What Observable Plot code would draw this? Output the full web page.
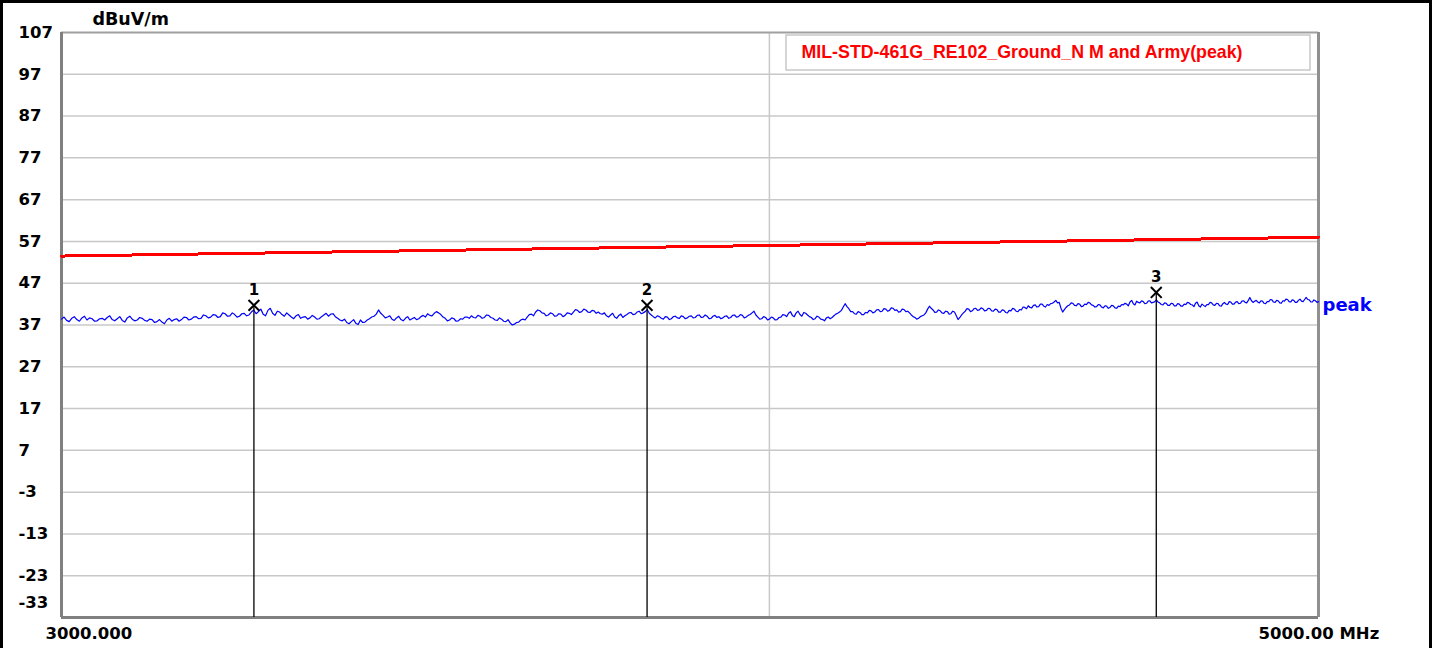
<!DOCTYPE html>
<html>
<head>
<meta charset="utf-8">
<script src="https://cdn.jsdelivr.net/npm/d3@7"></script>
<script src="https://cdn.jsdelivr.net/npm/@observablehq/plot@0.6"></script>
<style>
  html, body { margin: 0; padding: 0; background: #fff; }
  #wrap { position: relative; width: 1433px; height: 648px; overflow: hidden; }
  #edge { position: absolute; left: 0; top: 0; width: 1432px; height: 648px; box-sizing: border-box;
          border-left: 3px solid #000; border-top: 3px solid #000; border-right: 3px solid #000; pointer-events: none; }
  svg { display: block; }
</style>
</head>
<body>
<div id="wrap"><div id="edge"></div></div>
<script>
// Sweep settings (MHz)
const freqStart = 3000;
const freqStop = 5000;

// Measured peak trace, dBuV/m, one value per sweep point (evenly spaced from start to stop)
const peakLevels = [
  38.4, 38.9, 38.1, 37.8, 38.6, 39.0, 38.3, 37.9, 38.7, 39.1, 38.2, 38.7, 38.5, 37.9, 38.0, 38.5, 38.6, 38.2, 38.8, 39.2,
  38.3, 38.0, 38.5, 39.0, 38.1, 37.7, 38.7, 39.1, 38.4, 38.0, 38.2, 38.8, 38.6, 38.1, 37.9, 38.4, 38.3, 37.6, 37.8, 38.3,
  37.7, 37.3, 38.2, 38.6, 37.9, 38.3, 38.5, 37.9, 38.3, 38.9, 38.8, 38.2, 38.4, 38.9, 39.0, 38.5, 38.6, 39.4, 39.2, 38.7,
  38.9, 39.5, 39.4, 38.8, 39.0, 39.9, 39.7, 39.1, 39.2, 39.9, 39.5, 38.9, 39.1, 39.7, 39.8, 39.2, 39.4, 40.1, 40.6, 39.7,
  40.2, 40.8, 39.6, 39.2, 40.5, 41.0, 39.8, 39.3, 40.3, 40.1, 39.5, 39.1, 39.9, 39.4, 38.9, 38.5, 39.2, 39.5, 38.6, 38.9,
  39.0, 38.4, 38.7, 39.3, 38.9, 38.4, 38.5, 39.0, 39.4, 39.8, 39.1, 39.6, 39.7, 39.0, 38.6, 38.2, 38.0, 38.4, 37.6, 37.3,
  37.8, 38.3, 37.4, 37.1, 38.2, 37.6, 37.7, 38.2, 38.5, 38.9, 39.1, 39.6, 40.6, 39.8, 39.3, 38.7, 38.9, 39.2, 38.4, 38.1,
  38.7, 39.1, 38.3, 38.0, 38.6, 39.0, 38.2, 38.5, 38.8, 38.3, 38.5, 39.0, 39.3, 38.9, 39.7, 39.3, 39.2, 39.8, 40.2, 39.9,
  39.5, 38.9, 38.6, 38.0, 38.2, 38.7, 38.5, 37.9, 38.0, 38.5, 38.4, 38.9, 38.9, 38.6, 39.2, 38.8, 38.7, 39.3, 39.1, 38.6,
  38.8, 39.4, 39.3, 38.8, 38.6, 38.2, 38.1, 38.7, 38.4, 37.9, 37.8, 38.3, 37.5, 37.0, 37.2, 37.6, 37.7, 38.2, 38.4, 38.2,
  38.9, 39.5, 39.6, 39.2, 40.1, 40.6, 40.4, 39.9, 39.8, 39.2, 39.4, 39.9, 39.7, 39.1, 39.2, 39.7, 39.6, 39.0, 39.3, 39.9,
  39.8, 39.5, 40.1, 40.7, 40.5, 40.0, 40.2, 40.8, 40.6, 40.1, 40.0, 40.5, 40.4, 39.8, 40.1, 39.7, 39.6, 39.9, 39.2, 38.9,
  39.4, 39.8, 38.9, 38.6, 39.3, 39.6, 38.8, 39.2, 39.5, 39.9, 40.0, 39.5, 39.6, 40.1, 40.3, 39.7, 39.9, 40.2, 40.7, 39.8,
  39.4, 39.0, 38.7, 39.2, 39.0, 38.6, 38.4, 39.0, 38.9, 38.3, 38.5, 39.0, 39.1, 38.7, 38.6, 39.2, 39.0, 38.5, 38.7, 39.1,
  39.2, 38.7, 38.8, 39.3, 39.4, 38.8, 38.9, 39.4, 39.1, 38.5, 38.6, 39.1, 39.3, 38.8, 39.0, 38.5, 38.7, 39.1, 39.2, 38.6,
  38.8, 39.3, 39.4, 38.9, 39.0, 39.5, 39.3, 38.7, 38.9, 39.3, 39.5, 39.9, 40.3, 39.4, 38.9, 38.4, 38.5, 39.0, 38.8, 38.2,
  38.4, 38.9, 38.7, 38.2, 38.3, 38.8, 38.9, 39.5, 39.4, 39.0, 39.8, 40.2, 39.3, 39.0, 39.9, 40.3, 39.5, 39.1, 40.0, 39.8,
  39.4, 39.0, 38.8, 38.3, 38.5, 39.1, 38.9, 38.4, 38.3, 38.0, 38.7, 38.9, 38.5, 38.8, 39.2, 39.6, 39.8, 40.1, 40.5, 41.3,
  42.1, 41.4, 40.9, 40.2, 40.2, 39.7, 39.6, 40.2, 40.0, 39.5, 39.5, 40.0, 39.9, 40.5, 40.4, 39.9, 40.1, 40.6, 40.7, 40.2,
  40.3, 40.9, 40.8, 40.3, 40.5, 41.1, 41.0, 40.5, 40.6, 40.1, 40.2, 40.8, 40.7, 40.2, 40.3, 39.9, 39.4, 39.0, 38.8, 38.4,
  38.6, 39.0, 39.2, 39.4, 39.9, 40.8, 41.5, 41.0, 40.6, 40.0, 40.1, 40.6, 40.4, 39.9, 39.8, 40.3, 40.2, 39.6, 39.7, 40.3,
  40.1, 39.2, 38.3, 38.8, 39.4, 39.9, 40.3, 40.9, 40.8, 40.2, 40.4, 40.9, 41.0, 40.5, 40.6, 41.1, 40.9, 40.4, 40.5, 41.0,
  40.9, 40.4, 40.3, 40.8, 40.7, 40.1, 40.1, 40.6, 40.5, 40.0, 39.9, 40.5, 40.4, 41.0, 40.8, 40.3, 40.2, 40.7, 40.6, 41.3,
  41.2, 40.9, 41.6, 41.2, 41.1, 41.7, 41.8, 41.3, 41.4, 42.0, 42.0, 41.5, 41.3, 41.9, 41.7, 42.1, 42.2, 42.5, 42.9, 42.3,
  42.4, 41.0, 40.1, 40.7, 41.2, 41.6, 41.8, 42.3, 42.2, 41.7, 41.6, 42.1, 42.0, 41.4, 41.5, 42.0, 41.9, 42.4, 42.3, 41.8,
  41.7, 41.3, 41.4, 41.9, 41.8, 41.3, 41.1, 41.6, 41.5, 41.0, 41.2, 41.7, 41.6, 41.1, 41.0, 41.5, 41.4, 41.9, 41.8, 42.2,
  42.0, 41.6, 42.5, 42.9, 42.1, 41.8, 42.7, 42.4, 42.3, 42.8, 42.6, 42.1, 42.2, 42.7, 42.8, 42.3, 42.4, 42.6, 43.0, 42.5,
  42.3, 41.9, 41.8, 42.3, 42.2, 41.7, 41.7, 42.2, 42.1, 41.6, 41.6, 42.1, 42.0, 41.5, 41.5, 42.0, 41.9, 42.4, 42.3, 41.9,
  41.8, 41.4, 42.2, 42.5, 41.6, 41.3, 42.0, 41.7, 41.4, 41.9, 41.9, 42.4, 42.3, 41.8, 41.7, 42.2, 42.1, 41.6, 41.5, 42.1,
  42.4, 42.0, 41.9, 42.6, 42.5, 42.0, 42.0, 42.5, 42.6, 42.1, 42.2, 42.7, 42.8, 42.4, 42.3, 42.9, 43.6, 42.8, 42.4, 42.7,
  42.9, 42.5, 42.3, 42.8, 42.7, 42.2, 42.1, 42.6, 42.6, 43.1, 43.0, 42.5, 42.4, 42.9, 42.8, 42.3, 42.2, 42.8, 42.7, 43.2,
  43.1, 42.6, 42.5, 43.0, 42.9, 42.4, 42.4, 42.9, 43.2, 42.7, 42.6, 43.1, 43.6, 43.1, 43.0, 42.5, 42.5, 43.0, 42.8, 42.4,
  42.6
];

// Limit line end points (MHz, dBuV/m)
const limitFreqs = [3000, 5000];
const limitLevels = [53.5, 58.0];
const limitName = "MIL-STD-461G_RE102_Ground_N M and Army(peak)";

// Markers
const markerIds = ["1", "2", "3"];
const markerFreqs = [3244, 3806, 4681];
const markerLevels = [41.7, 41.7, 44.8];

// Axes
const yMin = -33, yMax = 107;
const yTicks = [107, 97, 87, 77, 67, 57, 47, 37, 27, 17, 7, -3, -13, -23, -33];
const yGrid = [97, 87, 77, 67, 57, 47, 37, 27, 17, 7, -3, -13, -23];
const xGrid = [4000];
const xStartLabel = "3000.000";
const xStopLabel = "5000.00 MHz";
const yUnit = "dBuV/m";
const traceName = "peak";

const freqStep = (freqStop - freqStart) / (peakLevels.length - 1);
const trace = peakLevels.map((v, i) => ({f: freqStart + i * freqStep, v}));
const limit = limitFreqs.map((f, i) => ({f, v: limitLevels[i]}));
const markers = markerIds.map((id, i) => ({id, f: markerFreqs[i], v: markerLevels[i]}));
const yLabels = yTicks.filter(t => t !== yMin).map(t => ({t}));
const yBottomLabel = [{t: yMin}];

const numFont = {fontFamily: "DejaVu Sans", fontWeight: "bold", fontSize: 16.5, fill: "#000"};

const chart = Plot.plot({
  width: 1433,
  height: 648,
  marginLeft: 61,
  marginRight: 115,
  marginTop: 32,
  marginBottom: 31,
  x: {type: "log", domain: [freqStart, freqStop], axis: null},
  y: {domain: [yMin, yMax], axis: null},
  style: {background: "transparent"},
  marks: [
    // grid
    Plot.ruleY(yGrid, {stroke: "#c8c8c8", strokeWidth: 1.5}),
    Plot.ruleX(xGrid, {stroke: "#c8c8c8", strokeWidth: 1.5}),
    // plot frame
    Plot.ruleY([yMax], {stroke: "#a0a0a0", strokeWidth: 2}),
    Plot.ruleX([freqStop], {stroke: "#909090", strokeWidth: 3}),
    Plot.ruleX([freqStart], {stroke: "#808080", strokeWidth: 3}),
    Plot.ruleY([yMin], {stroke: "#808080", strokeWidth: 3}),
    // limit and measured trace
    Plot.line(limit, {x: "f", y: "v", stroke: "#ff0000", strokeWidth: 3, shapeRendering: "crispEdges"}),
    Plot.line(trace, {x: "f", y: "v", stroke: "#0000ff", strokeWidth: 1.2}),
    // markers
    Plot.ruleX(markers, {x: "f", y1: "v", y2: yMin, stroke: "#000", strokeWidth: 1.3}),
    Plot.dot(markers, {x: "f", y: "v", symbol: "times", r: 5, stroke: "#000", strokeWidth: 2}),
    Plot.text(markers, {x: "f", y: "v", text: "id", dy: -15, fontFamily: "DejaVu Sans", fontSize: 15, fontWeight: "bold", fill: "#000"}),
    // y tick labels
    Plot.text(yLabels, {y: "t", text: d => String(d.t), frameAnchor: "left", dx: -43, textAnchor: "start", ...numFont}),
    Plot.text(yBottomLabel, {y: "t", text: d => String(d.t), frameAnchor: "left", dx: -43, dy: -15, textAnchor: "start", ...numFont}),
    Plot.text([yUnit], {frameAnchor: "top-left", dx: 31, dy: -13, textAnchor: "start", lineAnchor: "middle", ...numFont, fontSize: 17.5}),
    // x labels
    Plot.text([xStartLabel], {x: freqStart, y: yMin, dx: -16, dy: 16, textAnchor: "start", ...numFont}),
    Plot.text([xStopLabel], {x: freqStop, y: yMin, dx: -60, dy: 16, textAnchor: "start", ...numFont}),
    // trace name
    Plot.text([traceName], {x: freqStop, y: peakLevels[peakLevels.length - 1], dx: 4, dy: 4, textAnchor: "start",
      fontFamily: "DejaVu Sans", fontWeight: "bold", fontSize: 18, fill: "#0000ff"}),
    // legend entry
    Plot.text([limitName], {frameAnchor: "top-right", dx: -8 - 443 - 66, dy: 20, textAnchor: "start", lineAnchor: "middle",
      fontFamily: "Liberation Sans", fontWeight: "bold", fontSize: 17.8, fill: "#ff0000"})
  ]
});

// legend frame drawn behind the legend text
const svg = d3.select(chart);
const legendText = svg.selectAll("text").filter(function() { return this.textContent === limitName; });
svg.insert("rect", () => legendText.node().closest("g"))
  .attr("x", 786).attr("y", 35).attr("width", 524).attr("height", 35)
  .attr("fill", "#fff").attr("stroke", "#c8c8c8").attr("stroke-width", 1.5);

document.getElementById("wrap").prepend(chart);
</script>
</body>
</html>
